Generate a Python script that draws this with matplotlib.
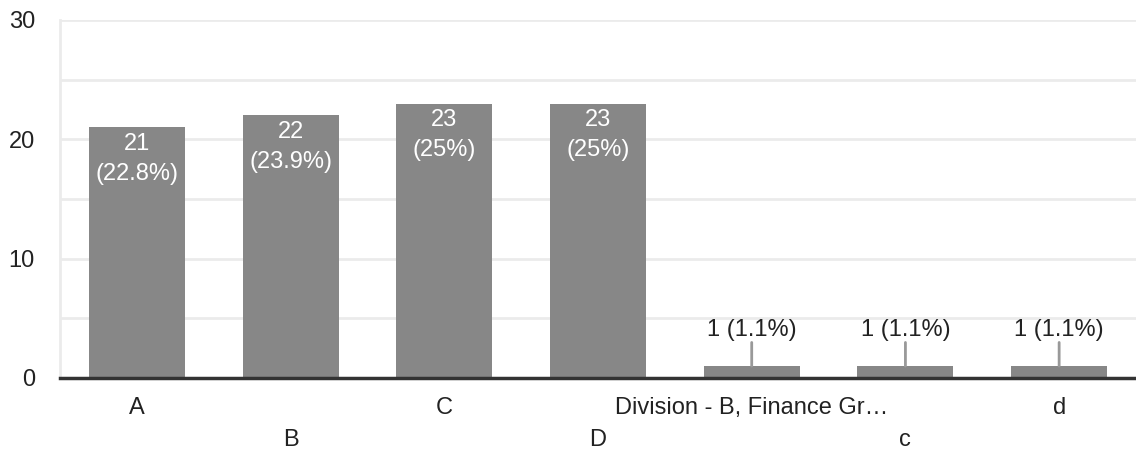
import matplotlib
matplotlib.use('Agg')
import matplotlib.pyplot as plt

# data
categories = ['A', 'B', 'C', 'D', 'Division - B, Finance Gr…', 'c', 'd']
counts = [21, 22, 23, 23, 1, 1, 1]
y_ticks = [0, 10, 20, 30]
y_minor = [5, 15, 25]

plt.rcParams['font.family'] = ['Liberation Sans', 'DejaVu Sans']

BAR = '#878787'
GRID = '#ebebeb'
TEXT = '#222222'
FS = 17

fig = plt.figure(figsize=(11.36, 4.5), dpi=100)
ax = fig.add_axes([60 / 1136, 72 / 450, 1 - 60 / 1136, 358 / 450])

x = list(range(len(categories)))
ax.bar(x, counts, width=0.625, color=BAR, zorder=2)

total = sum(counts)
for xi, v in zip(x, counts):
    pct = f'{v / total * 100:.1f}'.rstrip('0').rstrip('.')
    if v >= 5:
        ax.annotate(f'{v}\n({pct}%)', (xi, v), xytext=(0, -4), textcoords='offset points',
                    ha='center', va='top', color='white', fontsize=FS, linespacing=1.45,
                    zorder=3)
    else:
        ax.annotate(f'{v} ({pct}%)', (xi, v), xytext=(0, 18), textcoords='offset points',
                    ha='center', va='bottom', color=TEXT, fontsize=FS, zorder=3)
        ax.annotate('', (xi, v), xytext=(0, 17), textcoords='offset points',
                    arrowprops=dict(arrowstyle='-', color='#999999', lw=2,
                                    shrinkA=0, shrinkB=0), zorder=3)

ax.set_xlim(-0.5, len(categories) - 0.5)
ax.set_ylim(0, 30)
ax.set_yticks(y_ticks)
ax.set_yticks(y_minor, minor=True)
ax.grid(True, axis='y', which='both', color=GRID, lw=2, zorder=0)
ax.tick_params(axis='y', which='both', length=0, labelsize=FS, labelcolor=TEXT, pad=18)

ax.set_xticks(x)
ax.set_xticklabels(categories, fontsize=FS, color=TEXT)
ax.tick_params(axis='x', length=0)
for i, tick in enumerate(ax.xaxis.get_major_ticks()):
    tick.set_pad(14 if i % 2 == 0 else 37)

for side in ['top', 'right']:
    ax.spines[side].set_visible(False)
ax.spines['left'].set_color(GRID)
ax.spines['left'].set_linewidth(2)
ax.spines['bottom'].set_color('#333333')
ax.spines['bottom'].set_linewidth(2.5)
ax.spines['bottom'].set_zorder(4)

fig.savefig('out.png', dpi=100)
